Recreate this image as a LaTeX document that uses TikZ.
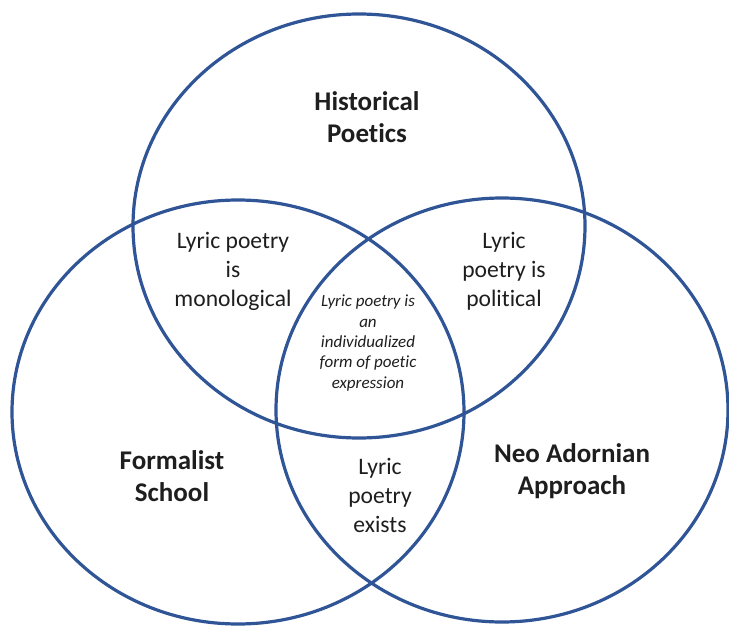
\documentclass[tikz,border=0pt]{standalone}
\usepackage{fontspec}
\setmainfont{Carlito}[RawFeature={-liga;-clig;-calt;-dlig}]
\usetikzlibrary{shapes.geometric}

\definecolor{setblue}{RGB}{47,85,151}
\definecolor{labelgray}{RGB}{30,30,30}

\tikzset{
  set/.style={ellipse, draw=setblue, line width=3.2pt, minimum width=452pt, minimum height=424pt, inner sep=0pt},
  settitle/.style={align=center, text=labelgray, font=\fontsize{27}{32}\selectfont\bfseries},
  overlap/.style={align=center, text=labelgray, font=\fontsize{23.6}{29}\selectfont},
  core/.style={align=center, text=labelgray, font=\fontsize{17}{20.3}\selectfont\itshape}
}

\begin{document}
\begin{tikzpicture}[x=1pt, y=-1pt]
    \useasboundingbox (0,0) rectangle (729,626);

    % the three sets
    \node[set] (hist) at (359,226) {};
    \node[set] (form) at (238,412) {};
    \node[set] (neo) at (502,410) {};

    % set names
    \node[settitle] (histname) at (367,117) {Historical\\Poetics};
    \node[settitle] (formname) at (172,476) {Formalist\\School};
    \node[settitle] (neoname) at (572,471) {Neo Adornian\\Approach};

    % pairwise overlaps
    \node[overlap] (histform) at (233,271) {Lyric poetry\\is\\monological};
    \node[overlap] (histneo) at (504,271) {Lyric\\poetry is\\political};
    \node[overlap] (formneo) at (380,495) {Lyric\\poetry\\exists};

    % all three
    \node[core] (all) at (368,343) {Lyric poetry is\\an\\individualized\\form of poetic\\expression};
\end{tikzpicture}
\end{document}
